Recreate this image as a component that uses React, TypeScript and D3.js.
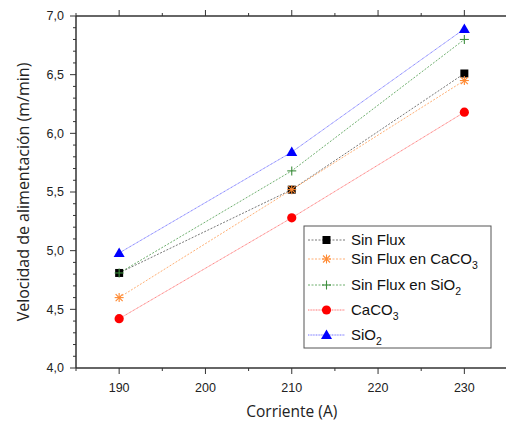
import React from "react";
import * as d3 from "d3";

const corriente = [190, 210, 230];
const sinFlux = [4.81, 5.52, 6.51];
const sinFluxCaCO3 = [4.6, 5.52, 6.45];
const sinFluxSiO2 = [4.81, 5.68, 6.8];
const caco3 = [4.42, 5.28, 6.18];
const sio2 = [4.98, 5.84, 6.89];
const xTicks = [190, 200, 210, 220, 230];
const yTicks = [4.0, 4.5, 5.0, 5.5, 6.0, 6.5, 7.0];

type Series = { name: string; sub?: string; values: number[]; color: string; marker: string; dash: string; lineColor: string };
const series: Series[] = [
  { name: "Sin Flux", values: sinFlux, color: "#000000", lineColor: "#555", marker: "square", dash: "2,1.5" },
  { name: "Sin Flux en CaCO", sub: "3", values: sinFluxCaCO3, color: "#ff8a33", lineColor: "#ff9a50", marker: "star", dash: "2,1.5" },
  { name: "Sin Flux en SiO", sub: "2", values: sinFluxSiO2, color: "#3e8e3e", lineColor: "#4a9a4a", marker: "plus", dash: "2,1.5" },
  { name: "CaCO", sub: "3", values: caco3, color: "#ff0000", lineColor: "#ff5050", marker: "circle", dash: "1,0.6" },
  { name: "SiO", sub: "2", values: sio2, color: "#0000ff", lineColor: "#5050ff", marker: "triangle", dash: "1,0.6" },
];

function Marker({ type, x, y, color }: { type: string; x: number; y: number; color: string }) {
  if (type === "square") return <rect x={x - 4} y={y - 4} width={8} height={8} fill={color} />;
  if (type === "circle") return <circle cx={x} cy={y} r={4.6} fill={color} />;
  if (type === "triangle") return <path d={`M${x},${y - 5.5} L${x + 5.5},${y + 4} L${x - 5.5},${y + 4} Z`} fill={color} />;
  if (type === "plus")
    return (
      <g stroke={color} strokeWidth={1.1}>
        <line x1={x - 4.5} x2={x + 4.5} y1={y} y2={y} />
        <line x1={x} x2={x} y1={y - 4.5} y2={y + 4.5} />
      </g>
    );
  if (type === "star")
    return (
      <g stroke={color} strokeWidth={1.1}>
        <line x1={x - 4.5} x2={x + 4.5} y1={y} y2={y} />
        <line x1={x} x2={x} y1={y - 4.5} y2={y + 4.5} />
        <line x1={x - 3.5} x2={x + 3.5} y1={y - 3.5} y2={y + 3.5} />
        <line x1={x - 3.5} x2={x + 3.5} y1={y + 3.5} y2={y - 3.5} />
      </g>
    );
  return null;
}

export default function App() {
  const W = 506, H = 425;
  const x = d3.scaleLinear().domain([185, 235]).range([76, 507.5]);
  const y = d3.scaleLinear().domain([4.0, 7.0]).range([368, 16]);
  const line = (vals: number[]) =>
    d3.line<number>().x((_, i) => x(corriente[i])).y((v) => y(v))(vals) || "";
  const minorY = d3.range(40, 71).map((v) => v / 10);
  const minorX = d3.range(185, 236, 5);
  const axisColor = "#333";
  const font = "Liberation Sans, Arial, sans-serif";
  const legX = 304, legY = 226;
  const rowYs = [240, 259, 285, 310, 335];
  return (
    <svg width={W} height={H} style={{ position: "absolute", left: 0, top: 0, background: "#fff" }}>
      <rect width={W} height={H} fill="#fff" />
      <g stroke={axisColor} strokeWidth={1.5} fill="none">
        <line x1={x(185)} x2={W} y1={y(4)} y2={y(4)} />
        <line x1={x(185)} x2={W} y1={y(7)} y2={y(7)} />
        <line x1={x(185)} x2={x(185)} y1={y(7)} y2={y(4)} />
      </g>
      <g stroke={axisColor} strokeWidth={1}>
        {minorY.map((v, i) => {
          const major = Math.abs(v * 2 - Math.round(v * 2)) < 1e-6;
          return <line key={i} x1={x(185) - (major ? 6 : 3)} x2={x(185)} y1={y(v)} y2={y(v)} />;
        })}
        {minorX.map((v, i) => {
          const major = v % 10 === 0;
          return (
            <g key={i}>
              <line x1={x(v)} x2={x(v)} y1={y(4)} y2={y(4) + (major ? 6 : 3)} />
              <line x1={x(v)} x2={x(v)} y1={y(7)} y2={y(7) - (major ? 6 : 3)} />
            </g>
          );
        })}
      </g>
      <g fontFamily={font} fontSize={12.5} fill="#222">
        {yTicks.map((v) => (
          <text key={v} x={64} y={y(v)} dy="0.35em" textAnchor="end">
            {v.toFixed(1).replace(".", ",")}
          </text>
        ))}
        {xTicks.map((v) => (
          <text key={v} x={x(v)} y={392} textAnchor="middle">
            {v}
          </text>
        ))}
      </g>
      <text x={x(210)} y={417} textAnchor="middle" fontFamily="Open Sans, sans-serif" fontSize={15.5} fill="#222">
        Corriente (A)
      </text>
      <text
        transform={`translate(29,${(y(4) + y(7)) / 2}) rotate(-90)`}
        textAnchor="middle"
        fontFamily="Open Sans, sans-serif"
        fontSize={16}
        fill="#222"
      >
        Velocidad de alimentación (m/min)
      </text>
      {series.map((s) => (
        <path key={s.name + "l"} d={line(s.values)} fill="none" stroke={s.lineColor} strokeWidth={0.8} strokeDasharray={s.dash} />
      ))}
      {series.map((s) => (
        <g key={s.name + "m"}>
          {s.values.map((v, i) => (
            <Marker key={i} type={s.marker} x={x(corriente[i])} y={y(v)} color={s.color} />
          ))}
        </g>
      ))}
      <rect x={legX} y={legY} width={187} height={122} fill="#fff" stroke="#555" strokeWidth={1} />
      {series.map((s, i) => (
        <g key={s.name + "g"}>
          <line x1={308} x2={345} y1={rowYs[i]} y2={rowYs[i]} stroke={s.lineColor} strokeWidth={0.8} strokeDasharray={s.dash} />
          <Marker type={s.marker} x={326.5} y={rowYs[i]} color={s.color} />
          <text x={351} y={rowYs[i]} dy="0.35em" fontFamily={font} fontSize={15} fill="#111">
            {s.name}
            {s.sub && (
              <tspan fontSize={10.5} dy="5">
                {s.sub}
              </tspan>
            )}
          </text>
        </g>
      ))}
    </svg>
  );
}
